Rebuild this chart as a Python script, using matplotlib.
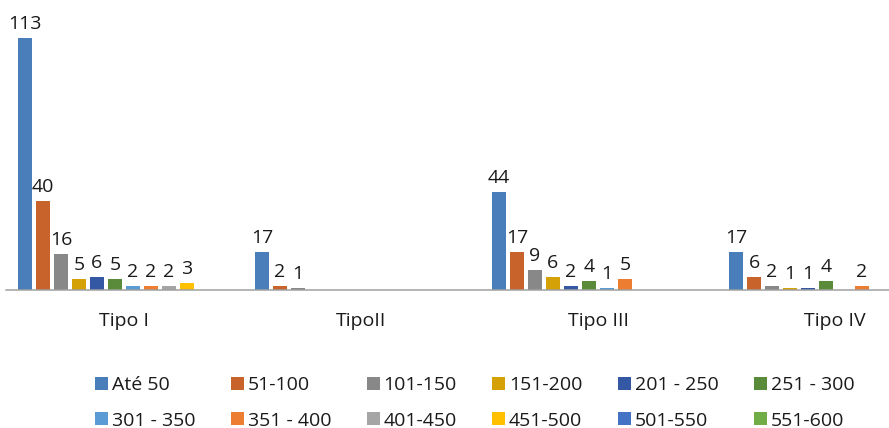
import matplotlib
matplotlib.use('Agg')
from matplotlib import pyplot as plt
from matplotlib.patches import Patch
import numpy as np

plt.rcParams['font.family'] = ['Open Sans', 'DejaVu Sans']

categories = ['Tipo I', 'TipoII', 'Tipo III', 'Tipo IV']
series_names = ['Até 50', '51-100', '101-150', '151-200', '201 - 250', '251 - 300',
                '301 - 350', '351 - 400', '401-450', '451-500', '501-550', '551-600']

# one list per series, values for Tipo I, TipoII, Tipo III, Tipo IV (None = no bar)
ate_50 = [113, 17, 44, 17]
s_51_100 = [40, 2, 17, 6]
s_101_150 = [16, 1, 9, 2]
s_151_200 = [5, None, 6, 1]
s_201_250 = [6, None, 2, 1]
s_251_300 = [5, None, 4, 4]
s_301_350 = [2, None, 1, None]
s_351_400 = [2, None, 5, 2]
s_401_450 = [2, None, None, None]
s_451_500 = [3, None, None, None]
s_501_550 = [None, None, None, None]
s_551_600 = [None, None, None, None]

all_series = [ate_50, s_51_100, s_101_150, s_151_200, s_201_250, s_251_300,
              s_301_350, s_351_400, s_401_450, s_451_500, s_501_550, s_551_600]

COLORS = ['#4A7EBB', '#C8642B', '#888888', '#D4A106', '#3458A3', '#5A8B3A',
          '#5B9BD5', '#ED7D31', '#A5A5A5', '#FFC000', '#4472C4', '#70AD47']
TEXT = '#1A1A1A'

W, H = 889, 428
fig = plt.figure(figsize=(W / 100, H / 100), dpi=100)

# axes placed in pixels: baseline at y=290, left edge at x=5.5
base_y = 290
px_per_unit = 2.23
ymax = 120
ax_h = px_per_unit * ymax
ax = fig.add_axes([5.5 / W, 1 - base_y / H, (W - 5.5) / W, ax_h / H])

cat_px = 237.0
slot = 18.0 / cat_px
bar_w = 14.5 / cat_px
x = np.arange(len(categories))

for j, vals in enumerate(all_series):
    xs = [x[i] + (j - 5.5) * slot for i, v in enumerate(vals) if v is not None]
    hs = [v for v in vals if v is not None]
    if not hs:
        continue
    bars = ax.bar(xs, hs, width=bar_w, color=COLORS[j], linewidth=0)
    ax.bar_label(bars, labels=[str(v) for v in hs], padding=3.5,
                 fontsize=14, color=TEXT)

ax.set_xlim(-0.5, (W - 5.5) / cat_px - 0.5)
ax.set_ylim(0, ymax)
ax.set_xticks(x)
ax.set_xticklabels(categories, fontsize=14, color=TEXT)
ax.tick_params(axis='x', length=0, pad=15.5)
ax.set_yticks([])
for side in ['top', 'right', 'left']:
    ax.spines[side].set_visible(False)
ax.spines['bottom'].set_color('#A0A0A0')
ax.spines['bottom'].set_linewidth(1.1)
ax.patch.set_alpha(0)

# legend fills column by column, so interleave to get row order
ncol = 6
order = [r * ncol + c for c in range(ncol) for r in range(2)]
handles = [Patch(facecolor=COLORS[k], edgecolor='none') for k in order]
labels = [series_names[k] for k in order]
fig.legend(handles, labels, ncol=ncol, loc='upper left',
           bbox_to_anchor=(95 / W, 1 - 376 / H), frameon=False,
           fontsize=14, handlelength=0.67, handleheight=0.67,
           handletextpad=0.2, columnspacing=1.82, labelspacing=0.9,
           borderpad=0, borderaxespad=0, labelcolor=TEXT)

fig.savefig('out.png', dpi=100)
